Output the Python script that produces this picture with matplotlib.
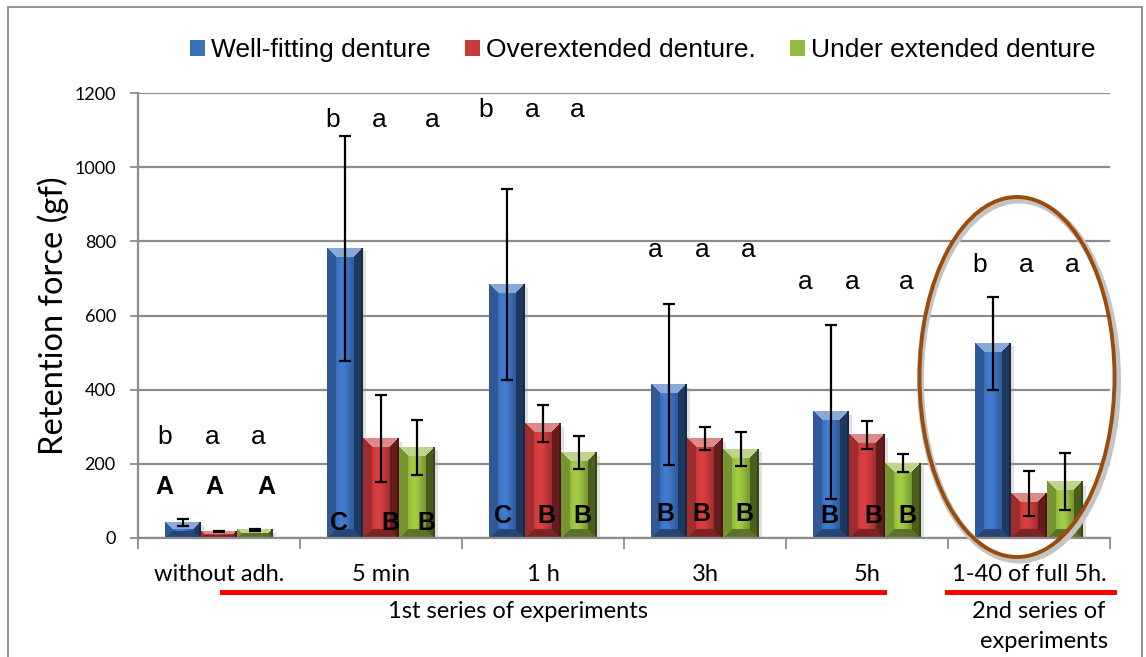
import numpy as np
import matplotlib
matplotlib.use("Agg")
import matplotlib.pyplot as plt
from matplotlib.patches import Patch, Ellipse, Rectangle
from matplotlib.lines import Line2D
from matplotlib.colors import to_rgb

# ---------------- data ----------------
categories = ["without adh.", "5 min", "1 h", "3h", "5h", "1-40 of full 5h."]
series_names = ["Well-fitting denture", "Overextended denture.", "Under extended denture"]
well_fitting = [42, 781, 684, 413, 340, 525]
well_fitting_err = [10, 303, 258, 217, 235, 125]
overextended = [18, 268, 308, 268, 278, 120]
overextended_err = [2, 118, 50, 30, 37, 62]
under_extended = [22, 245, 230, 240, 202, 152]
under_extended_err = [2, 74, 44, 45, 24, 77]

lower_letters = [["b", "a", "a"], ["b", "a", "a"], ["b", "a", "a"],
                 ["a", "a", "a"], ["a", "a", "a"], ["b", "a", "a"]]
upper_letters = [["A", "A", "A"], ["C", "B", "B"], ["C", "B", "B"],
                 ["B", "B", "B"], ["B", "B", "B"], []]

# ---------------- layout / style ----------------
colors = ["#3B70BE", "#C8393A", "#94BA3E"]
lower_y = [272, 1127, 1154, 776, 690, 736]
lower_dx = [[-0.333, -0.043, 0.24], [-0.30, -0.012, 0.315], [-0.352, -0.068, 0.21],
            [-0.309, -0.019, 0.265], [-0.383, -0.093, 0.241], [-0.302, -0.019, 0.265]]
upper_y = [137, 40, 59, 65, 59, None]
upper_dx = [[-0.34, -0.031, 0.29], [-0.259, 0.056, 0.278], [-0.247, 0.019, 0.241],
            [-0.247, -0.025, 0.241], [-0.235, 0.037, 0.247], []]

W, H, DPI = 1146, 657, 100
fig = plt.figure(figsize=(W / DPI, H / DPI), dpi=DPI)
fig.patch.set_facecolor("white")
ax = fig.add_axes([138 / W, 1 - 538 / H, (1110 - 138) / W, (538 - 93) / H])

grid_c = "#8C8C8C"
x = np.arange(len(categories))
bw = 0.222
offs = [-bw, 0, bw]
vals = [well_fitting, overextended, under_extended]
errs = [well_fitting_err, overextended_err, under_extended_err]

ax.set_xlim(-0.5, len(categories) - 0.5)
ax.set_ylim(0, 1200)

bar_containers = []
for i in range(3):
    bc = ax.bar(x + offs[i], vals[i], bw, color=colors[i], zorder=2, linewidth=0)
    bar_containers.append(bc)

fig.canvas.draw()


def bevel_image(wpx, hpx, base, b=9):
    wpx = max(int(round(wpx)), 2)
    hpx = max(int(round(hpx)), 2)
    xx = (np.arange(wpx)[None, :] + 0.5) * np.ones((hpx, 1))
    yy = (np.arange(hpx)[:, None] + 0.5) * np.ones((1, wpx))
    dl, dr, dt, db = xx, wpx - xx, yy, hpx - yy
    stack = np.stack([dl, dr, dt, db])
    nearest = np.argmin(stack, axis=0)
    dmin = np.min(stack, axis=0)
    base = np.array(to_rgb(base))
    u = xx / wpx
    f = 0.74 + 0.36 * np.exp(-((u - 0.42) / 0.26) ** 2)
    img = base[None, None, :] * f[..., None]
    bev = dmin < min(b, wpx / 2.2)
    light = np.clip(base * 0.6 + 0.4, 0, 1)
    left_c = base * 0.8
    right_c = base * 0.5
    bot_c = base * 0.62
    for k, c in enumerate([left_c, right_c, light, bot_c]):
        m = bev & (nearest == k)
        img[m] = c
    # thin dark outline on the far right edge
    img[:, -2:] = base * 0.38
    return np.clip(img, 0, 1)


for i, bc in enumerate(bar_containers):
    for p in bc.patches:
        bb = p.get_window_extent()
        x0, y0 = p.get_x(), p.get_y()
        x1, y1 = x0 + p.get_width(), y0 + p.get_height()
        img = bevel_image(bb.width, bb.height, colors[i], b=min(9, bb.height / 2.2))
        ax.imshow(img, extent=(x0, x1, y0, y1), aspect="auto", zorder=2.1,
                  interpolation="nearest")
        p.set_visible(False)
        # soft shadow
        ax.add_patch(Rectangle((x1, y0), 0.02, max(y1 - y0 - 8, 0), color="#999999",
                               alpha=0.3, zorder=1.9, lw=0))

ax.set_xlim(-0.5, len(categories) - 0.5)
ax.set_ylim(0, 1200)

for i in range(3):
    ax.errorbar(x + offs[i], vals[i], yerr=errs[i], fmt="none", ecolor="black",
                elinewidth=1.6, capsize=4.2, capthick=1.6, zorder=4)

# letters
for ci in range(len(categories)):
    for j, t in enumerate(lower_letters[ci]):
        ax.text(x[ci] + lower_dx[ci][j], lower_y[ci], t, ha="center", va="center",
                fontsize=19, family="Liberation Sans", zorder=5)
    for j, t in enumerate(upper_letters[ci]):
        ax.text(x[ci] + upper_dx[ci][j], upper_y[ci], t, ha="center", va="center",
                fontsize=18, fontweight="bold", family="Liberation Sans", zorder=5)

# axes styling
ax.set_yticks(np.arange(0, 1201, 200))
ax.yaxis.grid(True, color=grid_c, lw=1.6)
ax.set_axisbelow(True)
ax.tick_params(axis="y", length=6, color=grid_c, width=1.3, pad=10, labelsize=13)
for lab in ax.get_yticklabels():
    lab.set_family("Lato")
ax.set_xticks(x)
ax.set_xticklabels(categories, family="Lato", fontsize=17)
ax.set_xticks(np.arange(-0.5, len(categories)), minor=True)
ax.tick_params(axis="x", which="major", length=0, pad=19)
ax.tick_params(axis="x", which="minor", length=8, color=grid_c, width=1.3)
for s in ["top", "right"]:
    ax.spines[s].set_visible(False)
for s in ["left", "bottom"]:
    ax.spines[s].set_color(grid_c)
    ax.spines[s].set_linewidth(1.6)
ax.set_ylabel("Retention force (gf)", family="Lato", fontsize=23.5, labelpad=4)

# legend
handles = [Patch(facecolor=c, edgecolor="none") for c in colors]
fig.legend(handles, series_names, loc="center", bbox_to_anchor=(0.561, 0.924),
           ncol=3, frameon=False, prop={"family": "Liberation Sans", "size": 19},
           handlelength=0.55, handleheight=0.55, handletextpad=0.25,
           columnspacing=1.3)

# ellipse highlight
fig.add_artist(Ellipse((1019 / W, 1 - 380 / H), 197 / W, 360 / H, fill=False,
                       edgecolor="#C4C4C4", lw=5, transform=fig.transFigure, zorder=6))
fig.add_artist(Ellipse((1017 / W, 1 - 377 / H), 195 / W, 360 / H, fill=False,
                       edgecolor="#9B4B0C", lw=2.8, transform=fig.transFigure, zorder=7))

# series underlines and labels
fig.add_artist(Line2D([222 / W, 884 / W], [1 - 592 / H] * 2, color="#FF0000", lw=3.6,
                      transform=fig.transFigure))
fig.add_artist(Line2D([947 / W, 1114 / W], [1 - 592 / H] * 2, color="#FF0000", lw=3.6,
                      transform=fig.transFigure))
fig.text(518 / W, 1 - 611 / H, "1st series of experiments", ha="center", va="center",
         family="Lato", fontsize=17)
fig.text(1105 / W, 1 - 611 / H, "2nd series of", ha="right", va="center",
         family="Lato", fontsize=17)
fig.text(1108 / W, 1 - 641 / H, "experiments", ha="right", va="center",
         family="Lato", fontsize=17)

# outer border
fig.add_artist(Rectangle((8 / W, -0.1), (1142 - 8) / W, 1.1 - 7 / H, fill=False,
                         edgecolor="#8A8A8A", lw=1.3, transform=fig.transFigure))

fig.savefig("out.png", dpi=DPI)
